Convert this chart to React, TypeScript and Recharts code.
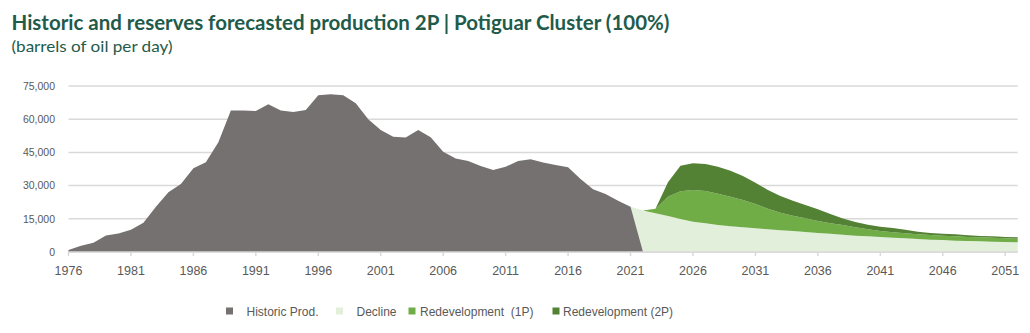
import React from 'react';
import { ComposedChart, Area, XAxis, YAxis, CartesianGrid, Customized } from 'recharts';

// Historic production, 1976..2022 (barrels of oil per day)
const historicStart = 1976;
const historicProd = [
  900, 2850, 4200, 7400, 8400, 10100, 13250, 20500, 27000, 30700,
  37800, 40500, 49600, 63900, 63900, 63700, 66700, 63900, 63300, 64200,
  70800, 71300, 70800, 67200, 60000, 55100, 52100, 51700, 55100, 51800,
  45300, 42300, 41100, 38900, 37000, 38500, 41100, 41900, 40400, 39300,
  38300, 33000, 28300, 26200, 23200, 20500, 0,
];

// Forecast series, 2021..2052 (stacked increments)
const forecastStart = 2021;
const declineProd = [
  20500, 18700, 17470, 16270, 14900, 13700, 12950, 12200, 11600, 11150,
  10700, 10250, 9800, 9500, 9050, 8600, 8200, 7830, 7380, 7080,
  6780, 6480, 6180, 5870, 5570, 5420, 5120, 4970, 4820, 4670,
  4520, 4370,
];
const redev1P = [
  0, 0, 2100, 8730, 12500, 14300, 14610, 14150, 13400, 12350,
  11000, 9320, 7960, 6900, 6150, 5400, 4750, 4370, 3770, 3160,
  2720, 2400, 2250, 2110, 2110, 1960, 1960, 1810, 1810, 1810,
  1660, 1660,
];
const redev2P = [
  0, 0, 0, 6500, 11600, 12100, 12240, 12200, 11750, 10850,
  9600, 8430, 7540, 6800, 6040, 5300, 4250, 2990, 2400, 2110,
  1950, 1970, 1670, 1210, 920, 920, 920, 770, 600, 600,
  600, 600,
];

const firstYear = 1976;
const lastYear = 2052;
const xTicks = [1976, 1981, 1986, 1991, 1996, 2001, 2006, 2011, 2016, 2021, 2026, 2031, 2036, 2041, 2046, 2051];
const yTicks = [0, 15000, 30000, 45000, 60000, 75000];

const titleText = 'Historic and reserves forecasted production 2P | Potiguar Cluster (100%)';
const subtitleText = '(barrels of oil per day)';

const series = [
  { key: 'historic', name: 'Historic Prod.', color: '#767171' },
  { key: 'decline', name: 'Decline', color: '#e2efda' },
  { key: 'p1', name: 'Redevelopment\u00a0\u00a0(1P)', color: '#70ad47' },
  { key: 'p2', name: 'Redevelopment (2P)', color: '#548235' },
];

const data: any[] = [];
for (let y = firstYear; y <= lastYear; y++) {
  const hi = y - historicStart;
  const fi = y - forecastStart;
  data.push({
    year: y,
    historic: hi >= 0 && hi < historicProd.length ? historicProd[hi] : null,
    decline: fi >= 0 ? declineProd[fi] : 0,
    p1: fi >= 0 ? redev1P[fi] : 0,
    p2: fi >= 0 ? redev2P[fi] : 0,
  });
}

const TITLE_COLOR = '#1f5b4a';
const TEXT_GREY = '#595959';
const GRID = '#d9d9d9';

const legendPos = [
  { sq: 226, tx: 246.5 },
  { sq: 336, tx: 356.5 },
  { sq: 408.5, tx: 420 },
  { sq: 552.5, tx: 563 },
];

const Overlay = () => (
  <g>
    <text x={11.5} y={29.5} fontFamily="Lato, 'Liberation Sans', sans-serif" fontWeight={700} fontSize={20}
      fill={TITLE_COLOR} textLength={658} lengthAdjust="spacingAndGlyphs">{titleText}</text>
    <text x={11.5} y={51.5} fontFamily="Lato, 'Liberation Sans', sans-serif" fontSize={15}
      fill={TITLE_COLOR} textLength={161} lengthAdjust="spacingAndGlyphs">{subtitleText}</text>
    {series.map((s, i) => (
      <g key={s.key}>
        <rect x={legendPos[i].sq} y={307.5} width={7} height={7} fill={s.color} />
        <text x={legendPos[i].tx} y={315.5} fontFamily="'Liberation Sans', Arial, sans-serif" fontSize={12}
          fill={TEXT_GREY}>{s.name}</text>
      </g>
    ))}
  </g>
);

export default function App() {
  return (
    <div style={{ position: 'absolute', left: 0, top: 0, width: 1030, height: 333, background: '#fff' }}>
      <ComposedChart width={1030} height={333} data={data}
        margin={{ top: 86, right: 12.3, left: 0, bottom: 0 }}>
        <CartesianGrid horizontal vertical={false} stroke={GRID} strokeWidth={1.5} />
        <XAxis dataKey="year" type="number" domain={[firstYear, lastYear]} ticks={xTicks}
          height={81} tickSize={4} tickMargin={10} interval={0}
          axisLine={{ stroke: GRID, strokeWidth: 1.5 }} tickLine={{ stroke: GRID, strokeWidth: 1.5 }}
          tick={{ fill: TEXT_GREY, fontSize: 12.5, fontFamily: "'Liberation Sans', Arial, sans-serif" }} />
        <YAxis type="number" domain={[0, 75000]} ticks={yTicks} width={68.5} tickSize={0} tickMargin={13.5}
          axisLine={false} tickLine={false} interval={0}
          tickFormatter={(v: number) => v.toLocaleString('en-US')}
          tick={{ fill: TEXT_GREY, fontSize: 10.5, fontFamily: "'Liberation Sans', Arial, sans-serif" }} />
        <Area type="linear" dataKey="decline" name="Decline" stackId="f" fill="#e2efda" stroke="none"
          fillOpacity={1} isAnimationActive={false} dot={false} activeDot={false} />
        <Area type="linear" dataKey="p1" name="Redevelopment  (1P)" stackId="f" fill="#70ad47" stroke="none"
          fillOpacity={1} isAnimationActive={false} dot={false} activeDot={false} />
        <Area type="linear" dataKey="p2" name="Redevelopment (2P)" stackId="f" fill="#548235" stroke="none"
          fillOpacity={1} isAnimationActive={false} dot={false} activeDot={false} />
        <Area type="linear" dataKey="historic" name="Historic Prod." fill="#767171" stroke="none"
          fillOpacity={1} isAnimationActive={false} dot={false} activeDot={false} connectNulls={false} />
        <Customized component={Overlay} />
      </ComposedChart>
    </div>
  );
}
